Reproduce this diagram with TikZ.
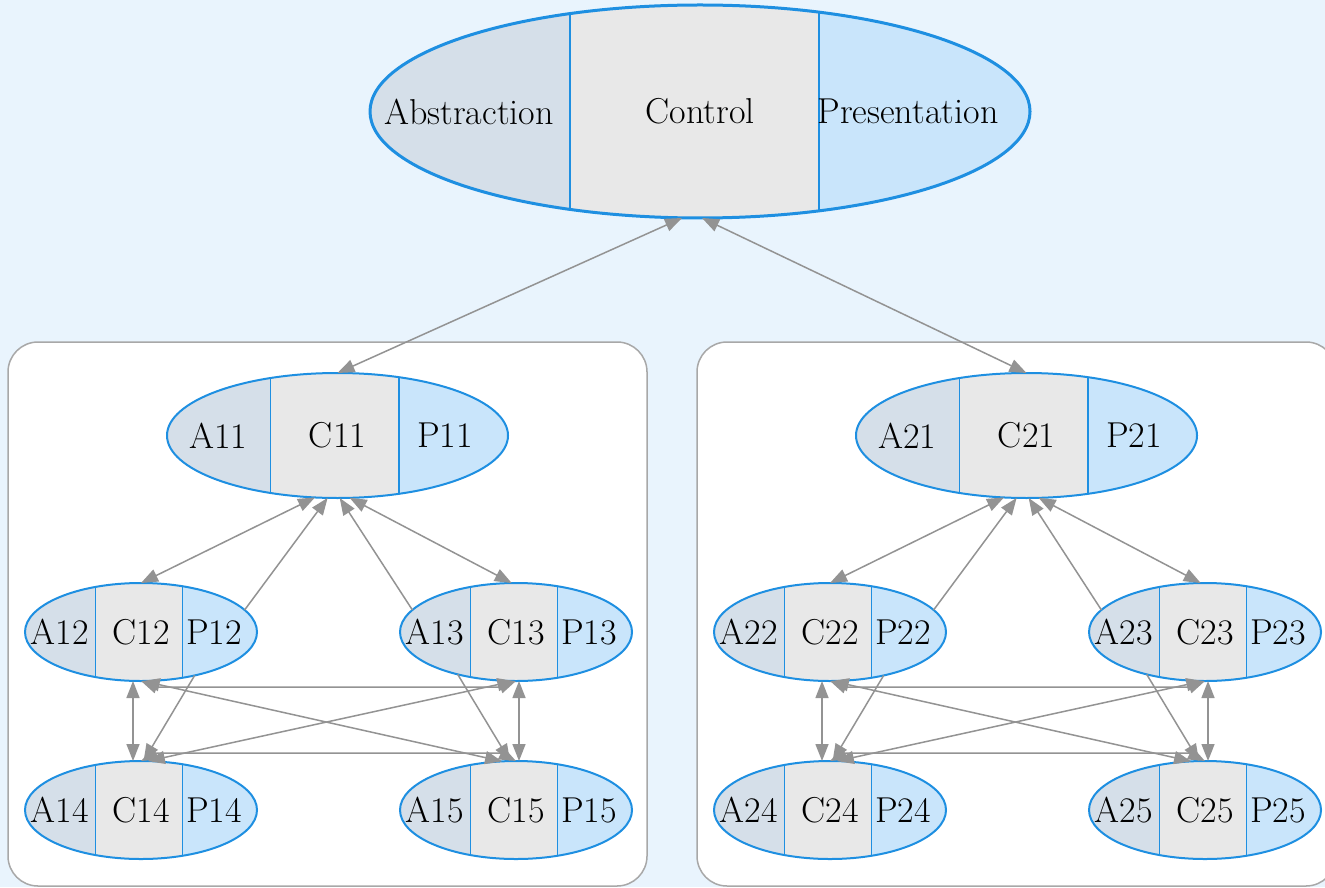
\documentclass[tikz,border=0pt]{standalone}
\usepackage{fontspec}
\usetikzlibrary{arrows.meta,shapes.geometric,calc}
\definecolor{pacBg}{HTML}{E9F4FD}
\definecolor{pacBlue}{HTML}{1E8FE1}
\definecolor{pacA}{HTML}{D5DFE9}
\definecolor{pacC}{HTML}{E8E8E8}
\definecolor{pacP}{HTML}{C9E5FB}
\definecolor{pacGray}{HTML}{939393}
\definecolor{pacFrame}{HTML}{A8A8A8}
\tikzset{
  pac part/.style={
    ellipse, draw=pacBlue, inner sep=0pt, outer sep=0pt,
    path picture={
      \coordinate (pp-sw) at (path picture bounding box.south west);
      \coordinate (pp-ne) at (path picture bounding box.north east);
      \coordinate (pp-a) at ($(pp-sw)!0.303!(pp-ne)$);
      \coordinate (pp-p) at ($(pp-sw)!0.68!(pp-ne)$);
      \fill[pacA] (pp-sw) rectangle (pp-a |- pp-ne);
      \fill[pacC] (pp-a |- pp-sw) rectangle (pp-p |- pp-ne);
      \fill[pacP] (pp-p |- pp-sw) rectangle (pp-ne);
      \draw[pacBlue,line width=0.8\pgflinewidth]
        (pp-a |- pp-sw) -- (pp-a |- pp-ne) (pp-p |- pp-sw) -- (pp-p |- pp-ne);
    }
  },
  pac top/.style={minimum width=330pt, minimum height=106.5pt, line width=1.5pt},
  pac mid/.style={minimum width=170.5pt, minimum height=62.5pt, line width=1pt},
  pac small/.style={minimum width=116pt, minimum height=49pt, line width=1pt},
  pac text/.style={font=\fontsize{18}{21.6}\selectfont, text=black,
    inner sep=0pt, outer sep=0pt},
  pac link/.style={draw=pacGray, line width=0.75pt},
  group box/.style={draw=pacFrame, fill=white, line width=0.75pt,
    rounded corners=15pt}
}
% one split ellipse: name, centre, size style, A / C / P labels
\newcommand{\PacNode}[6]{%
  \node[pac part,#3] (#1) at #2 {};
  \node[pac text] (#1-a) at ($(#1.center)!0.7!(#1.west)$) {#4};
  \node[pac text] (#1-c) at (#1.center) {#5};
  \node[pac text] (#1-p) at ($(#1.center)!0.63!(#1.east)$) {#6};
}

\begin{document}
\begin{tikzpicture}[x=0.5pt,y=-0.5pt,>={Triangle[length=8.5pt,width=6.5pt]}]
  \useasboundingbox (0,0) rectangle (1325,887);
  \clip (0,0) rectangle (1325,887);
  \fill[pacBg] (0,0) rectangle (1325,887);

  \PacNode{top}{(700,111.5)}{pac top}{Abstraction}{Control}{Presentation}

  % the two agent groups
  \foreach \g/\dx in {1/0,2/689}{
    \begin{scope}[shift={(\dx,0)}]
      \draw[group box] (8,342) rectangle (647,886);
      \PacNode{c\g1}{(337.5,435.5)}{pac mid}{A\g1}{C\g1}{P\g1}
      \PacNode{c\g2}{(141,632)}{pac small}{A\g2}{C\g2}{P\g2}
      \PacNode{c\g3}{(516,632)}{pac small}{A\g3}{C\g3}{P\g3}
      \PacNode{c\g4}{(141,810)}{pac small}{A\g4}{C\g4}{P\g4}
      \PacNode{c\g5}{(516,810)}{pac small}{A\g5}{C\g5}{P\g5}
    \end{scope}
    \draw[pac link,<->] (c\g1.250) -- (c\g2.north);
    \draw[pac link,->] (c\g2.12) -- (c\g1.261);
    \draw[pac link,->] (c\g3.168) -- (c\g1.272);
    \draw[pac link,<->] (c\g1.281) -- (c\g3.95);
    \draw[pac link,<->] ([xshift=-4pt]c\g2.south) -- ([xshift=-4pt]c\g4.north);
    \draw[pac link,->] (c\g2.321) -- (c\g4.87);
    \draw[pac link,<->] (c\g2.south) -- ++(16,6)
      -- ([shift={(-16,6)}]c\g3.south) -- (c\g3.south);
    \draw[pac link,<->] (c\g4.north) -- ++(16,-8)
      -- ([shift={(-16,-8)}]c\g5.north) -- (c\g5.north);
    \draw[pac link,<->] (c\g2.272) -- (c\g5.106);
    \draw[pac link,<->] (c\g4.82) -- (c\g3.268);
    \draw[pac link,<->] ([xshift=1.5pt]c\g3.south) -- ([xshift=1.5pt]c\g5.north);
    \draw[pac link,->] (c\g3.216) -- (c\g5.97);
  }

  \draw[pac link,<->] ([xshift=-9pt]top.south) -- (c11.north);
  \draw[pac link,<->] ([xshift=1pt]top.south) -- (c21.north);
\end{tikzpicture}
\end{document}
